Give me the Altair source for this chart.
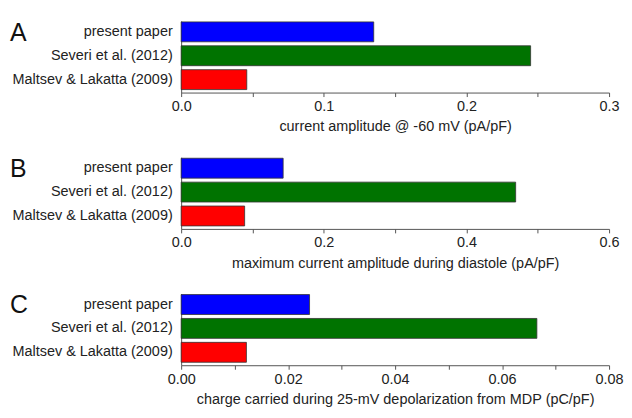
import altair as alt
import pandas as pd

studies = ["present paper", "Severi et al. (2012)", "Maltsev & Lakatta (2009)"]
bar_colors = ["#0000ff", "#007300", "#ff0000"]

amp_at_60 = [0.135, 0.245, 0.046]
max_amp_diastole = [0.143, 0.469, 0.089]
charge_25mv = [0.024, 0.0665, 0.0122]

letters = ["A", "B", "C"]
axis_titles = [
    "current amplitude @ -60 mV (pA/pF)",
    "maximum current amplitude during diastole (pA/pF)",
    "charge carried during 25-mV depolarization from MDP (pC/pF)",
]
x_max = [0.3, 0.6, 0.08]
ticks_a = [0.0, 0.05, 0.1, 0.15, 0.2, 0.25, 0.3]
ticks_b = [0.0, 0.1, 0.2, 0.3, 0.4, 0.5, 0.6]
ticks_c = [0.0, 0.01, 0.02, 0.03, 0.04, 0.05, 0.06, 0.07, 0.08]
label_exprs = [
    "abs(datum.value*10 - round(datum.value*10)) < 1e-6 ? format(datum.value, '.1f') : ''",
    "abs(datum.value*5 - round(datum.value*5)) < 1e-6 ? format(datum.value, '.1f') : ''",
    "abs(datum.value*50 - round(datum.value*50)) < 1e-6 ? format(datum.value, '.2f') : ''",
]
tick_lists = [ticks_a, ticks_b, ticks_c]
series = [amp_at_60, max_amp_diastole, charge_25mv]

FONT = "Liberation Sans"
TXT = "#222222"


def panel(i):
    df = pd.DataFrame({"study": studies, "value": series[i], "color": bar_colors})
    bars = alt.Chart(df).mark_bar(stroke="#333333", strokeWidth=0.8).encode(
        x=alt.X(
            "value:Q",
            scale=alt.Scale(domain=[0, x_max[i]], nice=False, zero=True),
            axis=alt.Axis(
                values=tick_lists[i],
                labelExpr=label_exprs[i],
                title=axis_titles[i],
                grid=False,
                tickSize=4,
                labelPadding=3,
                titlePadding=7,
                labelFontSize=14.5,
                titleFontSize=14.5,
                titleFontWeight="normal",
                labelFont=FONT,
                titleFont=FONT,
                labelColor=TXT,
                titleColor=TXT,
                domainColor="#555555",
                tickColor="#555555",
                labelFlush=False,
            ),
        ),
        y=alt.Y(
            "study:N",
            sort=studies,
            scale=alt.Scale(paddingInner=0.167, paddingOuter=0.083, align=0.25),
            axis=alt.Axis(
                title=None,
                ticks=False,
                labelPadding=9,
                labelFontSize=14.5,
                labelFont=FONT,
                labelColor=TXT,
                domainColor="#555555",
            ),
        ),
        color=alt.Color("color:N", scale=None, legend=None),
    )
    lab = alt.Chart(pd.DataFrame({"t": [letters[i]]})).mark_text(
        font=FONT, fontSize=25, align="left", baseline="top", color="#111111"
    ).encode(text="t:N", x=alt.value(-172), y=alt.value(0))
    return alt.layer(bars, lab).properties(width=430, height=72)


chart = alt.vconcat(panel(0), panel(1), panel(2), spacing=24).configure_view(
    stroke=None
).properties(padding={"left": 2, "top": 12, "right": 0, "bottom": 0})

chart.save("out.html", embed_options={"renderer": "svg", "actions": False})
